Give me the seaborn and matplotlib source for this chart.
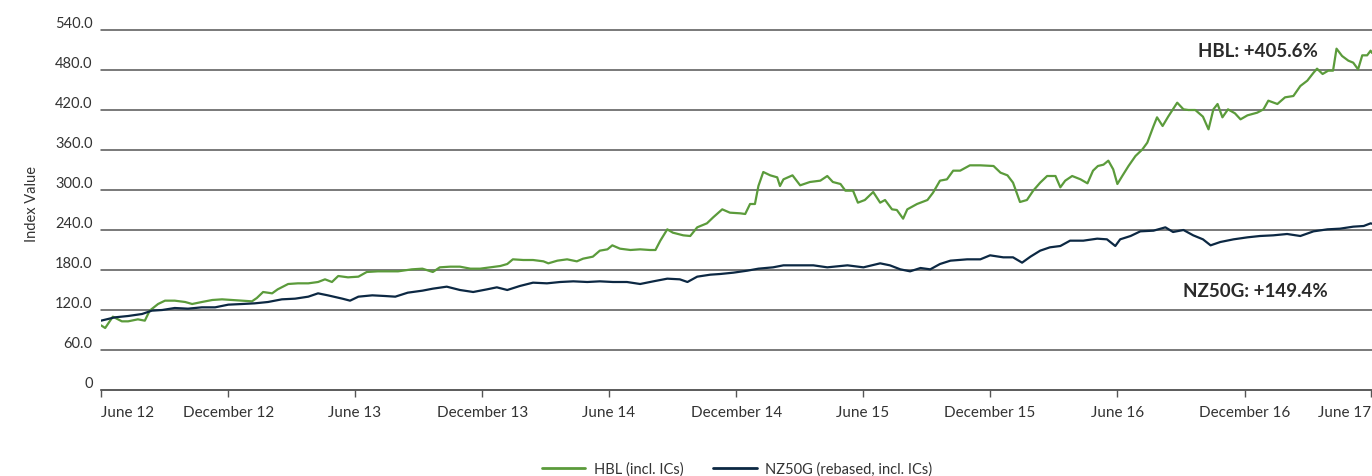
import matplotlib
matplotlib.use("Agg")
import matplotlib.pyplot as plt
from matplotlib.transforms import ScaledTranslation
import seaborn as sns
import pandas as pd

# ---------------- data ----------------
hbl_dates = [
    "2012-06-01", "2012-06-07", "2012-06-18", "2012-07-01", "2012-07-10", "2012-07-24",
    "2012-08-03", "2012-08-10", "2012-08-22", "2012-09-01", "2012-09-15", "2012-09-30",
    "2012-10-10", "2012-10-24", "2012-11-08", "2012-11-22", "2012-12-06", "2012-12-21",
    "2013-01-04", "2013-01-11", "2013-01-20", "2013-02-02", "2013-02-10", "2013-02-25",
    "2013-03-11", "2013-03-26", "2013-04-09", "2013-04-19", "2013-04-29", "2013-05-08",
    "2013-05-22", "2013-06-06", "2013-06-18", "2013-07-04", "2013-07-19", "2013-08-02",
    "2013-08-22", "2013-09-06", "2013-09-21", "2013-10-01", "2013-10-16", "2013-10-30",
    "2013-11-14", "2013-11-28", "2013-12-12", "2013-12-27", "2014-01-06", "2014-01-14",
    "2014-01-29", "2014-02-12", "2014-02-27", "2014-03-06", "2014-03-19", "2014-04-02",
    "2014-04-16", "2014-04-25", "2014-05-09", "2014-05-19", "2014-05-30", "2014-06-06",
    "2014-06-17", "2014-07-02", "2014-07-16", "2014-07-30", "2014-08-07", "2014-08-14",
    "2014-08-24", "2014-09-01", "2014-09-16", "2014-09-26", "2014-10-06", "2014-10-20",
    "2014-10-29", "2014-11-11", "2014-11-22", "2014-12-07", "2014-12-14", "2014-12-21",
    "2014-12-28", "2015-01-02", "2015-01-09", "2015-01-19", "2015-01-29", "2015-02-02",
    "2015-02-07", "2015-02-20", "2015-03-03", "2015-03-17", "2015-04-01", "2015-04-11",
    "2015-04-19", "2015-04-30", "2015-05-07", "2015-05-18", "2015-05-25", "2015-06-04",
    "2015-06-16", "2015-06-26", "2015-07-03", "2015-07-13", "2015-07-20", "2015-07-29",
    "2015-08-04", "2015-08-18", "2015-09-02", "2015-09-10", "2015-09-20", "2015-09-30",
    "2015-10-09", "2015-10-19", "2015-11-02", "2015-11-17", "2015-12-06", "2015-12-16",
    "2015-12-26", "2016-01-03", "2016-01-13", "2016-01-23", "2016-02-01", "2016-02-11",
    "2016-02-21", "2016-03-04", "2016-03-11", "2016-03-18", "2016-03-28", "2016-04-09",
    "2016-04-19", "2016-04-27", "2016-05-04", "2016-05-12", "2016-05-19", "2016-05-26",
    "2016-06-01", "2016-06-08", "2016-06-17", "2016-06-27", "2016-07-07", "2016-07-14",
    "2016-07-23", "2016-07-28", "2016-08-05", "2016-08-13", "2016-08-26", "2016-09-04",
    "2016-09-11", "2016-09-21", "2016-10-02", "2016-10-10", "2016-10-17", "2016-10-23",
    "2016-10-30", "2016-11-07", "2016-11-17", "2016-11-25", "2016-12-05", "2016-12-19",
    "2016-12-28", "2017-01-04", "2017-01-17", "2017-01-28", "2017-02-09", "2017-02-19",
    "2017-03-01", "2017-03-10", "2017-03-15", "2017-03-23", "2017-03-31", "2017-04-07",
    "2017-04-12", "2017-04-20", "2017-04-29", "2017-05-06", "2017-05-13", "2017-05-19",
    "2017-05-26", "2017-05-31", "2017-06-02",
]
hbl_values = [
    97, 93, 110, 103, 103, 106,
    104, 119, 129, 134, 134, 132,
    129, 132, 135, 136, 135, 134,
    133, 138, 147, 145, 151, 159,
    160, 160, 162, 166, 162, 171,
    169, 170, 177, 178, 178, 178,
    181, 182, 177, 184, 185, 185,
    182, 182, 184, 186, 189, 196,
    195, 195, 193, 190, 194, 196,
    193, 197, 200, 209, 211, 217,
    212, 210, 211, 210, 210, 224,
    241, 236, 232, 231, 244, 250,
    259, 271, 266, 265, 264, 279,
    279, 306, 327, 322, 319, 306,
    316, 322, 307, 312, 314, 321,
    312, 309, 299, 299, 281, 285,
    297, 281, 285, 271, 270, 257,
    271, 279, 285, 296, 314, 316,
    329, 329, 337, 337, 336, 326,
    322, 311, 282, 285, 299, 311,
    321, 321, 304, 314, 321, 316,
    310, 329, 336, 338, 344, 331,
    309, 321, 336, 351, 361, 371,
    396, 409, 396, 410, 431, 421,
    420, 420, 410, 391, 421, 429,
    409, 421, 415, 406, 412, 416,
    421, 434, 429, 439, 441, 456,
    464, 476, 482, 474, 479, 479,
    512, 501, 494, 491, 481, 502,
    502, 509, 505.6,
]

nz_dates = [
    "2012-06-01", "2012-06-21", "2012-07-10", "2012-07-30", "2012-08-13", "2012-08-28",
    "2012-09-15", "2012-10-04", "2012-10-24", "2012-11-12", "2012-12-01", "2012-12-21",
    "2013-01-08", "2013-01-27", "2013-02-16", "2013-03-07", "2013-03-26", "2013-04-09",
    "2013-04-23", "2013-05-14", "2013-05-25", "2013-06-06", "2013-06-26", "2013-07-14",
    "2013-07-29", "2013-08-16", "2013-09-06", "2013-09-21", "2013-10-11", "2013-10-30",
    "2013-11-18", "2013-12-08", "2013-12-22", "2014-01-06", "2014-01-24", "2014-02-12",
    "2014-03-04", "2014-03-23", "2014-04-11", "2014-05-01", "2014-05-19", "2014-06-07",
    "2014-06-27", "2014-07-16", "2014-08-04", "2014-08-24", "2014-09-11", "2014-09-22",
    "2014-10-06", "2014-10-25", "2014-11-08", "2014-11-27", "2014-12-17", "2015-01-02",
    "2015-01-23", "2015-02-07", "2015-03-03", "2015-03-22", "2015-04-11", "2015-05-10",
    "2015-06-02", "2015-06-26", "2015-07-10", "2015-07-25", "2015-08-08", "2015-08-23",
    "2015-09-06", "2015-09-20", "2015-10-05", "2015-10-29", "2015-11-17", "2015-12-01",
    "2015-12-20", "2016-01-03", "2016-01-16", "2016-01-28", "2016-02-11", "2016-02-25",
    "2016-03-11", "2016-03-25", "2016-04-13", "2016-05-03", "2016-05-17", "2016-05-29",
    "2016-06-05", "2016-06-20", "2016-07-04", "2016-07-23", "2016-08-09", "2016-08-20",
    "2016-09-04", "2016-09-18", "2016-10-02", "2016-10-13", "2016-10-27", "2016-11-15",
    "2016-12-05", "2016-12-23", "2017-01-11", "2017-01-31", "2017-02-19", "2017-03-10",
    "2017-03-30", "2017-04-17", "2017-05-06", "2017-05-21", "2017-05-31", "2017-06-02",
]
nz_values = [
    104, 109, 111, 114, 119, 120,
    123, 122, 124, 124, 128, 129,
    130, 132, 136, 137, 140, 145,
    142, 137, 134, 140, 142, 141,
    140, 146, 149, 152, 155, 150,
    147, 151, 154, 150, 156, 161,
    160, 162, 163, 162, 163, 162,
    162, 159, 163, 167, 166, 162,
    170, 173, 174, 176, 179, 182,
    184, 187, 187, 187, 184, 187,
    184, 190, 187, 181, 178, 183,
    181, 189, 194, 196, 196, 202,
    199, 199, 191, 200, 209, 214,
    216, 224, 224, 227, 226, 216,
    226, 231, 238, 239, 244, 237,
    240, 232, 226, 217, 222, 226,
    229, 231, 232, 234, 231, 238,
    241, 242, 245, 246, 250, 249.4,
]

series_names = ["HBL (incl. ICs)", "NZ50G (rebased, incl. ICs)"]
series_colors = ["#5b9b3b", "#0c2843"]
y_ticks = [0, 60, 120, 180, 240, 300, 360, 420, 480, 540]
y_tick_labels = ["0", "60.0", "120.0", "180.0", "240.0", "300.0", "360.0", "420.0", "480.0", "540.0"]
x_tick_dates = ["2012-06-01", "2012-12-01", "2013-06-01", "2013-12-01", "2014-06-01",
                "2014-12-01", "2015-06-01", "2015-12-01", "2016-06-01", "2016-12-01", "2017-06-01"]
x_tick_labels = ["June 12", "December 12", "June 13", "December 13", "June 14",
                 "December 14", "June 15", "December 15", "June 16", "December 16", "June 17"]
annotations = ["HBL: +405.6%", "NZ50G: +149.4%"]

# ---------------- build frame ----------------
df = pd.concat([
    pd.DataFrame({"date": pd.to_datetime(hbl_dates), "value": hbl_values, "series": series_names[0]}),
    pd.DataFrame({"date": pd.to_datetime(nz_dates), "value": nz_values, "series": series_names[1]}),
], ignore_index=True)

sns.set_theme(style="white")
plt.rcParams["font.family"] = ["Lato", "DejaVu Sans"]
text_color = "#333333"
grid_color = "#555555"

fig = plt.figure(figsize=(13.72, 4.77), dpi=100)
ax = fig.add_axes([101 / 1372, 86 / 477, 1 - 101 / 1372, 360 / 477])

sns.lineplot(data=df, x="date", y="value", hue="series", hue_order=series_names,
             palette=dict(zip(series_names, series_colors)), linewidth=1.6,
             ax=ax, legend=True, estimator=None, sort=True)

ax.set_ylim(0, 540)
ax.set_xlim(pd.Timestamp("2012-06-01"), pd.Timestamp("2017-06-02"))
ax.set_yticks(y_ticks)
ax.set_yticklabels(y_tick_labels)
for lab in ax.get_yticklabels():
    lab.set_verticalalignment("bottom")
ax.yaxis.grid(True, color=grid_color, linewidth=1.1)
for gl in ax.yaxis.get_gridlines():
    gl.set_clip_on(False)
ax.xaxis.grid(False)
ax.set_axisbelow(True)

ax.set_xticks(pd.to_datetime(x_tick_dates))
ax.set_xticklabels(x_tick_labels)
xticks = ax.xaxis.get_major_ticks()
xticks[0].label1.set_horizontalalignment("left")
xticks[-1].label1.set_horizontalalignment("right")

for s in ["top", "right", "left"]:
    ax.spines[s].set_visible(False)
ax.spines["bottom"].set_color(grid_color)
ax.spines["bottom"].set_linewidth(1.1)
ax.tick_params(axis="x", direction="out", length=5, width=1, color=grid_color,
               labelsize=11, labelcolor=text_color, pad=6, bottom=True)
ax.tick_params(axis="y", length=0, labelsize=10.5, labelcolor=text_color, pad=6)

ax.set_xlabel("")
ax.set_ylabel("Index Value", fontsize=10.5, color=text_color)
ax.yaxis.set_label_coords(-62 / 1271, 0.52)

ax.text(0.9575, 0.9417, annotations[0], transform=ax.transAxes, ha="right", va="center",
        fontsize=13.5, fontweight="bold", color="#2a2a2a")
ax.text(0.9654, 0.275, annotations[1], transform=ax.transAxes, ha="right", va="center",
        fontsize=13.5, fontweight="bold", color="#2a2a2a")

handles, labels = ax.get_legend_handles_labels()
ax.get_legend().remove()
leg = fig.legend(handles, labels, loc="center", bbox_to_anchor=(737 / 1372, 7 / 477),
                 ncol=2, frameon=False, fontsize=10.5, handlelength=3.0,
                 columnspacing=2.0, handletextpad=0.6)
for t in leg.get_texts():
    t.set_color(text_color)
for h in leg.get_lines():
    h.set_linewidth(2)

fig.savefig("out.png", dpi=100)
